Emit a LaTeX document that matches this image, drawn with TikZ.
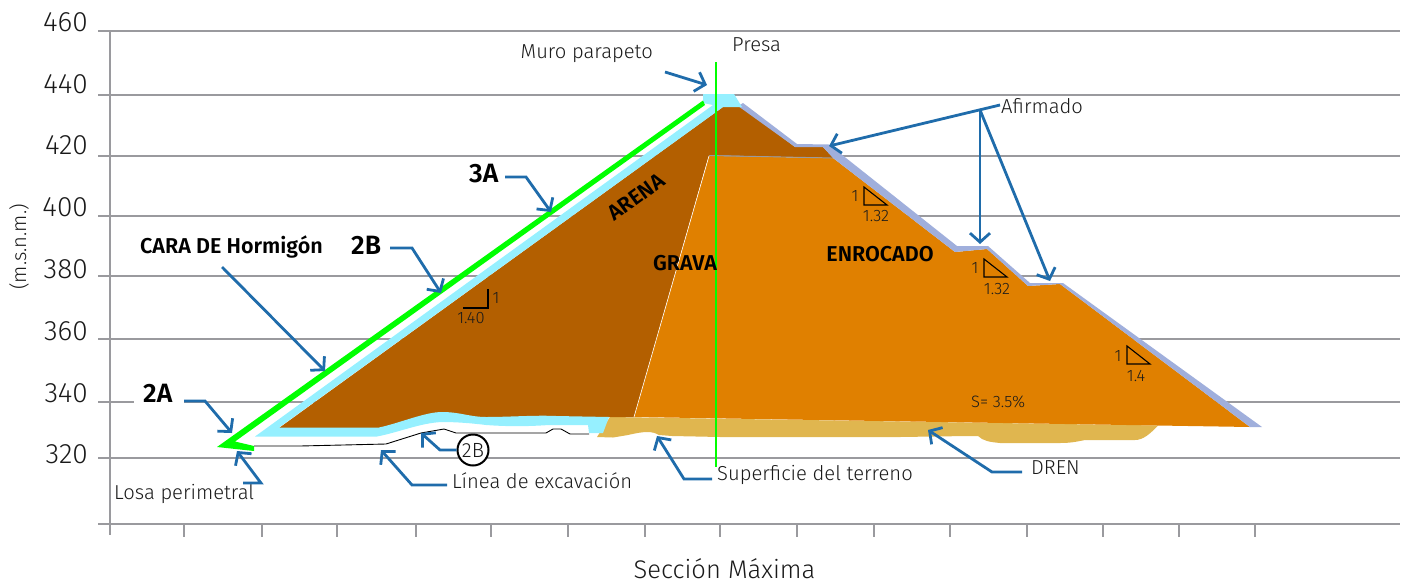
\documentclass[tikz,border=0pt]{standalone}
\usepackage{fontspec}
\setmainfont{Fira Sans Light}
\newfontfamily\boldf{Fira Sans SemiBold}
\usetikzlibrary{arrows.meta}
\definecolor{gridc}{HTML}{9A9A9E}
\definecolor{brownc}{HTML}{B35F00}
\definecolor{orangec}{HTML}{E08000}
\definecolor{cyanc}{HTML}{96F0FF}
\definecolor{afirc}{HTML}{A0AFDC}
\definecolor{drenc}{HTML}{E0B64F}
\definecolor{bluec}{HTML}{1F6CAB}
\definecolor{greenc}{HTML}{00FF00}
\definecolor{txt}{HTML}{1A1A1A}
\tikzset{
  gridline/.style={draw=gridc,line width=1.9pt},
  lbl/.style={inner sep=0pt,text=txt,font=\fontsize{20.2}{23}\selectfont},
  axnum/.style={inner sep=0pt,text=txt,font=\fontsize{28}{31}\selectfont},
  small/.style={inner sep=0pt,text=txt,font=\fontsize{16.5}{19}\selectfont},
  strong/.style={inner sep=0pt,text=black,font=\boldf\fontsize{21.5}{24}\selectfont},
  big/.style={inner sep=0pt,text=black,font=\boldf\fontsize{26.5}{29}\selectfont},
  leader/.style={draw=bluec,line width=2.8pt,-{Straight Barb[length=9pt,width=20pt,line width=2.8pt]}},
  slopetri/.style={draw=black,line width=1.1pt}
}
\begin{document}
\begin{tikzpicture}[x=1pt,y=-1pt]
\useasboundingbox (0,0) rectangle (1407,584);
% grid
\foreach \yy in {31,95,156,216,276,339,458,524}{\draw[gridline] (98,\yy) -- (1400,\yy);}
\draw[gridline] (98,402) -- (134,402);
\draw[gridline] (184,402) -- (1400,402);
\draw[gridline] (110,31) -- (110,535);
\foreach \xx in {184,262,337,416,491,568,645,720,797,874,950,1027,1103,1179,1255}{\draw[gridline] (\xx,524) -- (\xx,537);}
% axis labels
\node[axnum,anchor=east] (y460) at (88,22) {460};
\node[axnum,anchor=east] (y440) at (88,84) {440};
\node[axnum,anchor=east] (y420) at (88,145) {420};
\node[axnum,anchor=east] (y400) at (88,207) {400};
\node[axnum,anchor=east] (y380) at (88,269) {380};
\node[axnum,anchor=east] (y360) at (88,331) {360};
\node[axnum,anchor=east] (y340) at (88,393) {340};
\node[axnum,anchor=east] (y320) at (88,454) {320};
\node[lbl,rotate=90] (msnm) at (19,247) {(m.s.n.m.)};
\node[inner sep=0pt,text=txt,font=\fontsize{25.5}{28}\selectfont] (sec) at (724.5,569) {Sección Máxima};
% dren
\fill[drenc] (610,417) -- (1158,425.5) .. controls (1150,434) and (1143,440) .. (1135,440) -- (1085,440) .. controls (1075,442) and (1070,443) .. (1060,443) -- (1000,443) .. controls (990,442) and (983,441) .. (978,436) -- (968,436) -- (900,437) -- (720,437) -- (672,436) -- (659,435) .. controls (652,431) and (645,431) .. (628,435) -- (613,437.5) -- (597,437) -- cycle;
% orange
\fill[orangec] (709,156) -- (833,158) -- (955,252) -- (987,249) -- (1028,286) -- (1060,284) -- (1250,427) -- (634,417) -- cycle;
% brown
\fill[brownc] (723,107) -- (742,107) -- (795,147) -- (823,147) -- (833,158) -- (709,155) -- (634,417) -- (556,417) -- (486,418) -- (442,414) -- (379,429) -- (279,428) -- cycle;
\draw[white,line width=.6pt] (709,156) -- (634,417);
\draw[gridc,line width=.9pt] (709,155.5) -- (833,158);
% afirmado
\fill[afirc] (743,103) -- (797,144) -- (829,144.5) -- (957,246) -- (988,246) -- (1030,283) -- (1063,283) -- (1262,427) -- (1250,427) -- (1060,284) -- (1028,286) -- (987,249) -- (955,252) -- (833,158) -- (823,147) -- (795,147) -- (738,106) -- cycle;
% cyan
\fill[cyanc] (703,94) -- (734,94) -- (742,107) -- (723,107) -- (279,427.5) -- (379,427.5) .. controls (400,423) and (425,412) .. (442,412) .. controls (460,412) and (470,417) .. (486,417) .. controls (510,417) and (535,415) .. (556,416) -- (609,417) -- (603,433) -- (589,433) -- (588,425) -- (549,425) .. controls (520,427) and (500,426) .. (486,425) .. controls (470,423) and (455,422) .. (442,422) .. controls (420,423) and (400,432) .. (377,436.5) -- (255,436.5) -- (713,105) -- (703,103) -- cycle;
% green face
\fill[greenc] (217,447) -- (703,100.5) -- (705,105) -- (235,441.5) -- (254,446) -- (254,451) -- cycle;
% excavation line
\draw[black,line width=.9pt] (254,446) -- (300,446) -- (386,444) -- (421,433) -- (444,429) -- (456,433) -- (546,433) -- (553,429) -- (561,429) -- (570,434) -- (589,434);
% axis of dam
\draw[greenc,line width=2.6pt] (716,62) -- (716,467);
% slope marks
\draw[slopetri] (463,308) -- (488,308) -- (488,289);
\draw[slopetri] (864,187) -- (864,205) -- (887,205) -- cycle;
\draw[slopetri] (984,259) -- (984,277) -- (1007,277) -- cycle;
\draw[slopetri] (1127,346) -- (1127,364) -- (1150,364) -- cycle;
\node[small] (r1a) at (496,298) {1};
\node[small] (r1b) at (471,318) {1.40};
\node[small] (r2a) at (855,196) {1};
\node[small] (r2b) at (876,216) {1.32};
\node[small] (r3a) at (975,268) {1};
\node[small] (r3b) at (997,289) {1.32};
\node[small] (r4a) at (1118,356) {1};
\node[small] (r4b) at (1136,376) {1.4};
\node[small,anchor=west] (slope) at (971,402) {S= 3.5\%};
% material labels
\node[strong,rotate=36] (arena) at (636,197) {ARENA};
\node[strong] (grava) at (685,263) {GRAVA};
\node[strong] (enro) at (880,254) {ENROCADO};
% labels
\node[lbl,anchor=east] (muro) at (653,54) {Muro parapeto};
\node[lbl,anchor=west] (presa) at (732,45) {Presa};
\node[lbl,anchor=west] (afir) at (1001,106) {Afirmado};
\node[lbl,anchor=west] (losa) at (114,494) {Losa perimetral};
\node[lbl,anchor=west] (linea) at (452,481) {Línea de excavación};
\node[lbl,anchor=west] (sup) at (717,475) {Superficie del terreno};
\node[lbl,anchor=west] (dren) at (1031,468) {DREN};
\node[strong,anchor=west] (cara) at (140,247) {CARA DE Hormigón};
\node[big,anchor=west] (l2B) at (351,245) {2B};
\node[big,anchor=west] (l3A) at (469,174) {3A};
\node[big,anchor=west] (l2A) at (143,393) {2A};
\node[circle,draw=black,line width=2pt,fill=white,minimum size=31pt,inner sep=0pt,text=txt,font=\fontsize{20.5}{23}\selectfont] (c2B) at (473,450) {2B};
% targets
\coordinate (tMuro) at (707,85);
\coordinate (tAf1) at (829,146);
\coordinate (tAf2) at (980,244);
\coordinate (tAf3) at (1050,281);
\coordinate (afOrigin) at (980,110);
\coordinate (t3A) at (551,212);
\coordinate (t2B) at (441,293);
\coordinate (tCara) at (325,371);
\coordinate (t2A) at (232,433);
\coordinate (tLosa) at (237,451);
\coordinate (tLinea) at (381,450);
\coordinate (tc2B) at (421,433);
\coordinate (tSup) at (657,436);
\coordinate (tDren) at (928,430);
% leaders
\draw[leader] (665,72) -- (tMuro);
\draw[leader] ([xshift=-1pt,yshift=1pt]afir.west) -- (tAf1);
\draw[leader] (afOrigin) -- (tAf2);
\draw[leader] (afOrigin) -- (tAf3);
\draw[leader] (505,177) -- (526,177) -- (t3A);
\draw[leader] (390,248) -- (412,248) -- (t2B);
\draw[leader] (222,267) -- (tCara);
\draw[leader] (184,401) -- (205,401) -- (t2A);
\draw[leader] (243,483) -- (261,483) -- (tLosa);
\draw[leader] (447,485) -- (412,485) -- (tLinea);
\draw[leader] (c2B.west) -- (440,450) -- (tc2B);
\draw[leader] (712,479) -- (684,479) -- (tSup);
\draw[leader] (1022,472) -- (992,472) -- (tDren);
\end{tikzpicture}
\end{document}
